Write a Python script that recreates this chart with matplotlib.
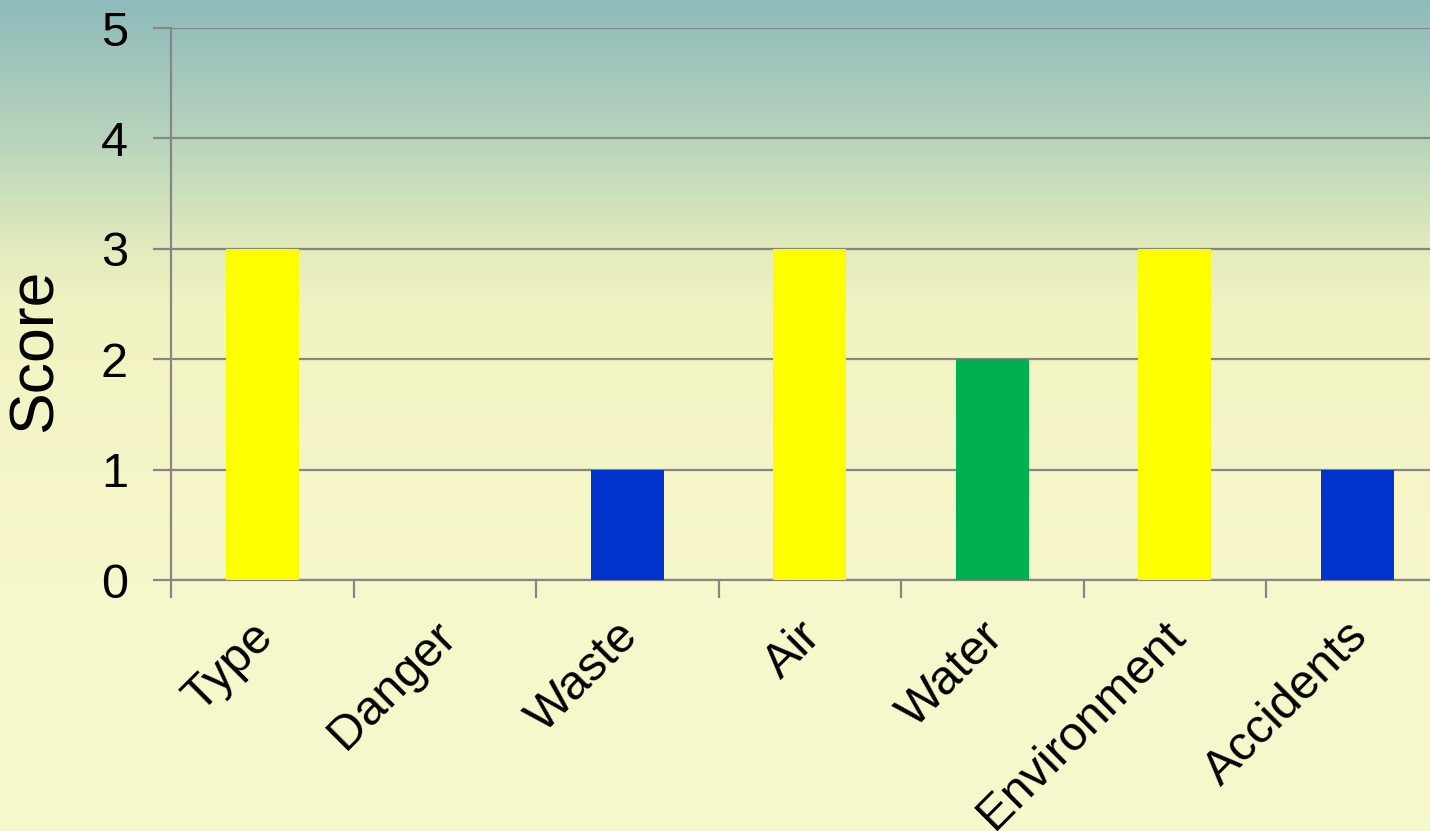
import matplotlib.pyplot as plt
import matplotlib.transforms as mtransforms
import numpy as np
from matplotlib.colors import LinearSegmentedColormap

plt.rcParams['font.family'] = ['Liberation Sans', 'DejaVu Sans']

categories = ["Type", "Danger", "Waste", "Air", "Water", "Environment", "Accidents"]
scores = [3, 0, 1, 3, 2, 3, 1]
bar_colors = ["#ffff00", "#ffff00", "#0033cc", "#ffff00", "#00b050", "#ffff00", "#0033cc"]

fig = plt.figure(figsize=(14.3, 8.31), dpi=100)

# background gradient, teal at top to pale yellow
bg = fig.add_axes([0, 0, 1, 1], zorder=-1)
grad_cmap = LinearSegmentedColormap.from_list(
    "bg", [(0.0, "#8ebbbb"), (0.17, "#b9d5bc"), (0.30, "#e3ebbd"),
           (0.37, "#f2f3c2"), (0.70, "#f7f7cc"), (1.0, "#f7f7cc")])
bg.imshow(np.linspace(0, 1, 256).reshape(-1, 1), aspect="auto", cmap=grad_cmap,
          extent=[0, 1, 1, 0])
bg.set_axis_off()

# axes runs past right edge of figure like the original
left = 171 / 1430
bottom = 1 - 580 / 831
height = (580 - 28) / 831
width = 182.5 * 7 / 1430
ax = fig.add_axes([left, bottom, width, height])
ax.patch.set_alpha(0)

x = np.arange(len(categories))
ax.bar(x, scores, width=0.4, color=bar_colors, zorder=3)

ax.set_xlim(-0.5, len(categories) - 0.5)
ax.set_ylim(0, 5)
ax.set_yticks(range(6))
ax.yaxis.grid(True, color="#868686", linewidth=1.6, zorder=1)

ax.set_xticks(np.arange(-0.5, len(categories) + 0.5, 1))
ax.set_xticklabels([])
ax.set_xticks(x, minor=True)
ax.set_xticklabels(categories, minor=True, rotation=45, ha="right",
                   rotation_mode="anchor", fontsize=35)
ax.tick_params(axis="x", which="minor", length=0, pad=24)
ax.tick_params(axis="x", which="major", length=13, width=1.6, color="#868686")
ax.tick_params(axis="y", length=13, width=1.6, color="#868686", labelsize=35, pad=18)

shift = mtransforms.ScaledTranslation(-0.12, 0, fig.dpi_scale_trans)
for lbl in ax.get_xticklabels(minor=True):
    lbl.set_transform(lbl.get_transform() + shift)

for s in ["top", "right"]:
    ax.spines[s].set_visible(False)
for s in ["left", "bottom"]:
    ax.spines[s].set_color("#868686")
    ax.spines[s].set_linewidth(1.6)

ax.set_ylabel("Score", fontsize=45)
ax.yaxis.set_label_coords(-0.083, 0.417)

fig.savefig("out.png", dpi=100)
